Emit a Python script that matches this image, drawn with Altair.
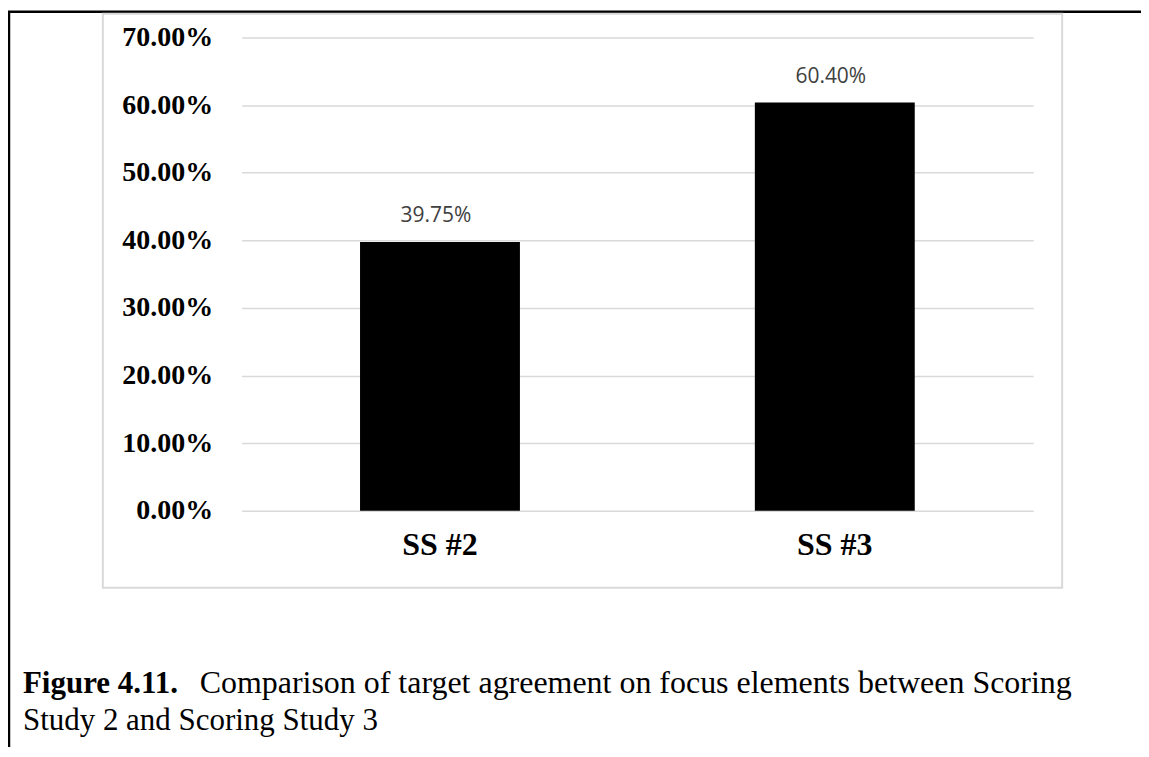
import altair as alt
import pandas as pd

categories = ["SS #2", "SS #3"]
values = [0.3975, 0.6040]
y_ticks = [0.0, 0.1, 0.2, 0.3, 0.4, 0.5, 0.6, 0.7]
caption_bold = "Figure 4.11."
caption_line1 = "Comparison of target agreement on focus elements between Scoring"
caption_line2 = "Study 2 and Scoring Study 3"

df = pd.DataFrame({"cat": categories, "val": values})
one = pd.DataFrame({"k": [0]})

W, H = 793, 474
GRID = "#d9d9d9"
SERIF = "Liberation Serif"

x_enc = alt.X(
    "cat:N",
    sort=categories,
    scale=alt.Scale(paddingInner=0.595, paddingOuter=0.3),
    axis=alt.Axis(
        title=None, labelAngle=0, ticks=False, domain=False,
        labelFont=SERIF, labelFontWeight="bold", labelFontSize=32,
        labelColor="black", labelPadding=19, grid=False,
    ),
)
y_enc = alt.Y(
    "val:Q",
    scale=alt.Scale(domain=[0, 0.7], nice=False),
    axis=alt.Axis(
        title=None, values=y_ticks, format=".2%", ticks=False, domain=False,
        labelFont=SERIF, labelFontWeight="bold", labelFontSize=28,
        labelColor="black", labelPadding=29,
        grid=True, gridColor=GRID, gridWidth=1.5,
    ),
)

bars = alt.Chart(df).mark_bar(color="black").encode(x=x_enc, y=y_enc)
labels = alt.Chart(df).mark_text(
    dy=-20, dx=-4, baseline="alphabetic", font="Open Sans", fontSize=21, color="#404040"
).encode(x=alt.X("cat:N", sort=categories), y="val:Q", text=alt.Text("val:Q", format=".2%"))

# decorative frame and page borders
top_line = alt.Chart(one).mark_rule(color="black", strokeWidth=2.5).encode(
    x=alt.value(-234), x2=alt.value(915), y=alt.value(-26)
)
left_line = alt.Chart(one).mark_rule(color="black", strokeWidth=2.5).encode(
    x=alt.value(-233), y=alt.value(-26), y2=alt.value(720)
)
frame = alt.Chart(one).mark_rect(fill="white", fillOpacity=0, stroke=GRID, strokeWidth=2).encode(
    x=alt.value(-139), x2=alt.value(822), y=alt.value(-24), y2=alt.value(551)
)

cap_b = alt.Chart(one).mark_text(
    align="left", baseline="alphabetic", font=SERIF, fontSize=31, fontWeight="bold", color="black"
).encode(x=alt.value(-219), y=alt.value(657), text=alt.value(caption_bold))
cap_1 = alt.Chart(one).mark_text(
    align="left", baseline="alphabetic", font=SERIF, fontSize=32, color="black"
).encode(x=alt.value(-42), y=alt.value(657), text=alt.value(caption_line1))
cap_2 = alt.Chart(one).mark_text(
    align="left", baseline="alphabetic", font=SERIF, fontSize=31, color="black"
).encode(x=alt.value(-219), y=alt.value(694), text=alt.value(caption_line2))

chart = alt.layer(
    top_line, frame, left_line, bars, labels, cap_b, cap_1, cap_2
).properties(
    width=W, height=H,
    autosize="none",
    padding={"left": 234, "top": 29, "right": 108, "bottom": 236},
    background="white",
).configure_view(stroke=None)

chart.save("out.html", embed_options={"renderer": "svg", "actions": False})
